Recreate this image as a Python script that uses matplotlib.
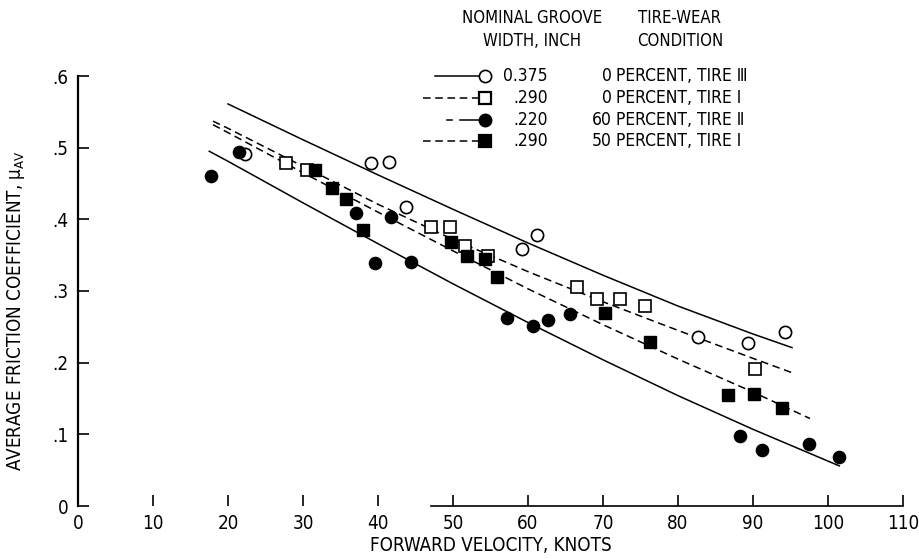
import matplotlib
matplotlib.use('Agg')
import matplotlib.pyplot as plt
from matplotlib import font_manager as fm

names = {f.name for f in fm.fontManager.ttflist}
cond_ok = any(f.name == 'DejaVu Sans' and f.stretch in ('condensed', 'semi-condensed', 500, 600)
              for f in fm.fontManager.ttflist)
if 'Liberation Sans Narrow' in names:
    main_font, fs, lfs, hfs = 'Liberation Sans Narrow', 13.5, 12.5, 12
elif cond_ok:
    main_font, fs, lfs, hfs = 'DejaVu Sans', 13.5, 12.5, 12
    plt.rcParams['font.stretch'] = 'condensed'
else:
    main_font, fs, lfs, hfs = 'DejaVu Sans', 12, 11, 10.5
plt.rcParams['font.family'] = [main_font, 'DejaVu Sans']
plt.rcParams['mathtext.fontset'] = 'custom'
plt.rcParams['mathtext.rm'] = main_font
plt.rcParams['mathtext.it'] = main_font

# ---------------- data ----------------
# 0.375 in. groove, 0 percent wear, tire III (open circles)
c375_x = [22.2, 39.1, 41.5, 43.7, 59.2, 61.2, 82.6, 89.3, 94.3]
c375_y = [0.491, 0.478, 0.480, 0.417, 0.358, 0.378, 0.236, 0.227, 0.243]
# 0.290 in. groove, 0 percent wear, tire I (open squares)
s290o_x = [27.7, 30.5, 47.0, 49.6, 51.6, 54.6, 66.5, 69.2, 72.3, 75.6, 90.2]
s290o_y = [0.479, 0.469, 0.389, 0.389, 0.363, 0.349, 0.305, 0.289, 0.289, 0.279, 0.191]
# 0.220 in. groove, 60 percent wear, tire II (filled circles)
c220_x = [17.7, 21.4, 37.0, 39.6, 41.7, 44.4, 57.2, 60.6, 62.7, 65.6, 88.3, 91.2, 97.5, 101.4]
c220_y = [0.460, 0.494, 0.409, 0.339, 0.403, 0.340, 0.262, 0.251, 0.259, 0.268, 0.097, 0.078, 0.087, 0.069]
# 0.290 in. groove, 50 percent wear, tire I (filled squares)
s290f_x = [31.6, 33.9, 35.7, 38.0, 49.7, 51.8, 54.3, 55.9, 70.3, 76.2, 86.7, 90.1, 93.8]
s290f_y = [0.469, 0.444, 0.429, 0.385, 0.368, 0.349, 0.344, 0.320, 0.269, 0.229, 0.155, 0.156, 0.137]

# faired curves
f375_x = [20, 30, 40, 50, 60, 70, 80, 90, 95.2]
f375_y = [0.561, 0.511, 0.462, 0.414, 0.367, 0.322, 0.279, 0.240, 0.221]
f290o_x = [18, 20, 30, 40, 50, 60, 70, 80, 90, 95.2]
f290o_y = [0.537, 0.527, 0.474, 0.421, 0.372, 0.327, 0.285, 0.245, 0.206, 0.186]
f220_x = [17.5, 20, 30, 40, 50, 60, 70, 80, 90, 101.5]
f220_y = [0.495, 0.481, 0.423, 0.366, 0.310, 0.256, 0.204, 0.154, 0.107, 0.056]
f290f_x = [18, 20, 30, 40, 50, 60, 70, 80, 90, 97.6]
f290f_y = [0.532, 0.521, 0.465, 0.410, 0.356, 0.303, 0.253, 0.205, 0.159, 0.122]

x_ticks = [0, 10, 20, 30, 40, 50, 60, 70, 80, 90, 100, 110]
y_ticks = [0, 0.1, 0.2, 0.3, 0.4, 0.5, 0.6]
y_ticklabels = ['0', '.1', '.2', '.3', '.4', '.5', '.6']

legend_widths = ['0.375', '.290', '.220', '.290']
legend_conds = ['0 PERCENT, TIRE \u2162', '0 PERCENT, TIRE \u2160',
                '60 PERCENT, TIRE \u2161', '50 PERCENT, TIRE \u2160']

# ---------------- figure ----------------
W, H = 919, 559
fig = plt.figure(figsize=(W / 100, H / 100), dpi=100)
ax = fig.add_axes([78 / W, 1 - 506 / H, 825 / W, 430 / H])
ax.set_xlim(0, 110)
ax.set_ylim(0, 0.6)

lw = 1.1
dash = (5, 3)
ax.plot(f375_x, f375_y, color='black', lw=lw, zorder=2)
ax.plot(f290o_x, f290o_y, color='black', lw=lw, ls=(0, dash), zorder=2)
ax.plot(f220_x, f220_y, color='black', lw=lw, zorder=2)
ax.plot(f290f_x, f290f_y, color='black', lw=lw, ls=(0, dash), zorder=2)

ms_c = 8.8
ms_s = 8.0
ax.plot(c375_x, c375_y, ls='none', marker='o', ms=ms_c, mfc='white', mec='black', mew=1.2, zorder=3)
ax.plot(s290o_x, s290o_y, ls='none', marker='s', ms=ms_s, mfc='white', mec='black', mew=1.2, zorder=3)
ax.plot(c220_x, c220_y, ls='none', marker='o', ms=ms_c, mfc='black', mec='black', zorder=4)
ax.plot(s290f_x, s290f_y, ls='none', marker='s', ms=ms_s, mfc='black', mec='black', zorder=4)

for s in ['top', 'right']:
    ax.spines[s].set_visible(False)
ax.spines['left'].set_linewidth(1.6)
ax.spines['bottom'].set_linewidth(1.2)
ax.spines['bottom'].set_bounds(47, 110)

ax.set_xticks(x_ticks)
ax.set_xticklabels([str(t) for t in x_ticks])
ax.set_yticks(y_ticks)
ax.set_yticklabels(y_ticklabels)
ax.tick_params(axis='both', direction='in', length=8, width=1.2, labelsize=fs, color='black')
ax.tick_params(axis='x', pad=6)
ax.tick_params(axis='y', pad=7)

ax.set_xlabel('FORWARD VELOCITY, KNOTS', fontsize=fs, labelpad=2)
ax.set_ylabel(r'AVERAGE FRICTION COEFFICIENT, $\mu_{\mathrm{AV}}$', fontsize=fs)
ax.yaxis.set_label_coords(-0.062, 0.455)

# ---------------- legend (figure pixel layout) ----------------
def fx(px):
    return px / W

def fy(py):
    return 1 - py / H

fig.text(fx(532), fy(18), 'NOMINAL GROOVE', ha='center', va='center', fontsize=hfs)
fig.text(fx(532), fy(41), 'WIDTH, INCH', ha='center', va='center', fontsize=hfs)
fig.text(fx(680), fy(18), 'TIRE-WEAR', ha='center', va='center', fontsize=hfs)
fig.text(fx(680), fy(41), 'CONDITION', ha='center', va='center', fontsize=hfs)

rows = [76, 98, 120, 141]
segs = [[(435, 480)], [(423, 479)], [(447, 452), (460, 481)], [(423, 479)]]
styles = [('-', 'o', 'white', ms_c), ((0, dash), 's', 'white', ms_s),
          ('-', 'o', 'black', ms_c), ((0, dash), 's', 'black', ms_s)]
for i, py in enumerate(rows):
    ls, mk, fc, ms = styles[i]
    for a, b in segs[i]:
        fig.add_artist(plt.Line2D([fx(a), fx(b)], [fy(py), fy(py)], color='black',
                                  lw=lw, ls=ls, transform=fig.transFigure))
    fig.add_artist(plt.Line2D([fx(485)], [fy(py)], marker=mk, ms=ms, mfc=fc, mec='black',
                              mew=1.6 if mk == 's' else 1.2, ls='none',
                              transform=fig.transFigure))
    fig.text(fx(548), fy(py), legend_widths[i], ha='right', va='center', fontsize=lfs)
    num, rest = legend_conds[i].split(' ', 1)
    fig.text(fx(612), fy(py), num, ha='right', va='center', fontsize=lfs)
    fig.text(fx(616), fy(py), rest, ha='left', va='center', fontsize=lfs)

fig.savefig('out.png', dpi=100)
